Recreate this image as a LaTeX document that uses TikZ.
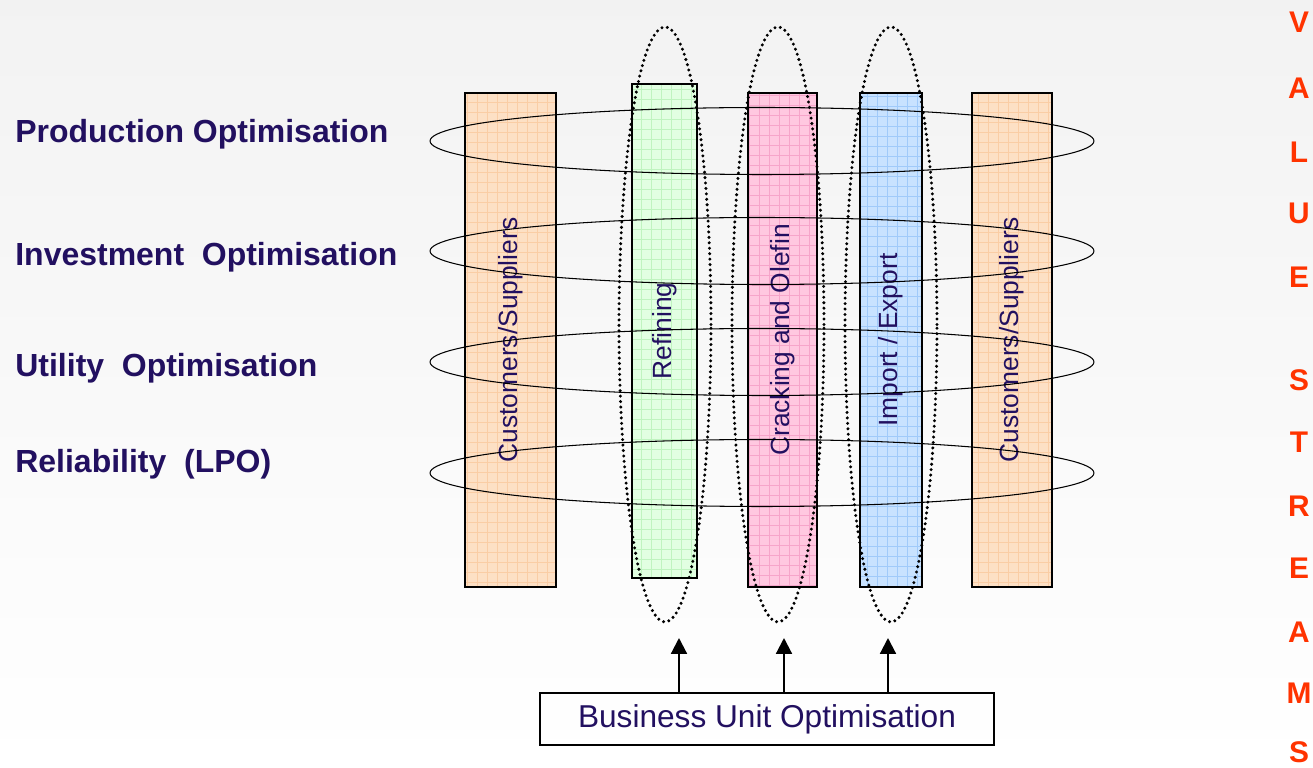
\documentclass[tikz,border=0pt]{standalone}
\usepackage{fontspec}
\setmainfont{Liberation Sans}
\usetikzlibrary{positioning,shapes.geometric,arrows.meta}
\definecolor{navy}{RGB}{34,16,96}
\definecolor{streamred}{RGB}{255,51,0}
\definecolor{peach}{RGB}{253,224,197}
\definecolor{peachgrid}{RGB}{250,205,165}
\definecolor{mint}{RGB}{226,255,226}
\definecolor{mintgrid}{RGB}{192,244,192}
\definecolor{rose}{RGB}{255,200,224}
\definecolor{rosegrid}{RGB}{246,165,202}
\definecolor{sky}{RGB}{200,226,255}
\definecolor{skygrid}{RGB}{160,202,250}
\tikzset{
  unitbox/.style={draw, line width=1.2pt, rotate=90, inner sep=0pt, text=navy,
    font=\fontsize{15}{18}\selectfont, minimum width=9.88cm},
  gridfill/.style={fill=#1, path picture={
    \draw[#1grid, line width=0.4pt] (path picture bounding box.south west)
      grid[step=0.2cm] (path picture bounding box.north east);}},
  hloop/.style={draw, ellipse, line width=0.6pt, inner sep=0pt,
    minimum width=13.28cm, minimum height=1.34cm},
  vloop/.style={draw, ellipse, line width=1.9pt, line cap=round,
    dash pattern=on 0pt off 3.1pt, inner sep=0pt,
    minimum width=1.84cm, minimum height=11.9cm},
  level/.style={anchor=base west, inner sep=0pt, text=navy, font=\fontsize{18.2}{22}\selectfont\bfseries},
  stream/.style={text=streamred, font=\fontsize{17}{20}\selectfont\bfseries},
  uparrow/.style={line width=1.2pt, -{Triangle[width=9pt,length=9pt]}}
}
\begin{document}
\begin{tikzpicture}[x=0.02cm, y=0.02cm]
  \useasboundingbox (0,0) rectangle (1313,768);
  \shade[top color=gray!10, bottom color=white] (0,0) rectangle (1313,768);

  \node[unitbox, gridfill=peach, minimum height=1.82cm] (CS1) at (510.5,428) {Customers/Suppliers};
  \node[unitbox, gridfill=mint,  minimum height=1.30cm] (Ref) at (664.5,437) {Refining};
  \node[unitbox, gridfill=rose,  minimum height=1.38cm] (Cra) at (782.5,428) {Cracking and Olefin};
  \node[unitbox, gridfill=sky,   minimum height=1.24cm] (Imp) at (891,428) {Import / Export};
  \node[unitbox, gridfill=peach, minimum height=1.60cm] (CS2) at (1012,428) {Customers/Suppliers};

  \node[hloop] (Lprod) at (762,627) {};
  \node[hloop] (Linv)  at (762,517) {};
  \node[hloop] (Lutil) at (762,406) {};
  \node[hloop] (Lrel)  at (762,295) {};

  \node[vloop] (Vref) at (665,443.5) {};
  \node[vloop] (Vcra) at (778,443.5) {};
  \node[vloop] (Vimp) at (891,443.5) {};

  \node[level] (Pprod) at (15,625) {Production Optimisation};
  \node[level] (Pinv)  at (15,502) {Investment\ \ Optimisation};
  \node[level] (Putil) at (15,391) {Utility\ \ Optimisation};
  \node[level] (Prel)  at (15,295) {Reliability\ \ (LPO)};

  \node[draw, line width=1.2pt, minimum width=9.08cm, minimum height=1.04cm, text=navy,
    font=\fontsize{18}{22}\selectfont] (BUO) at (767,49) {Business Unit Optimisation};

  \coordinate (t1) at (679,130);
  \coordinate (t2) at (784,130);
  \coordinate (t3) at (888,130);
  \foreach \t in {t1,t2,t3}
    \draw[uparrow] (BUO.north -| \t) -- (\t);

  \foreach \ch/\yy [count=\i] in {V/746,A/680,L/616,U/555,E/491,S/388,T/326,R/262,E/200,A/136,M/75,S/16}
    \node[stream] (VS\i) at (1299,\yy) {\ch};
\end{tikzpicture}
\end{document}
